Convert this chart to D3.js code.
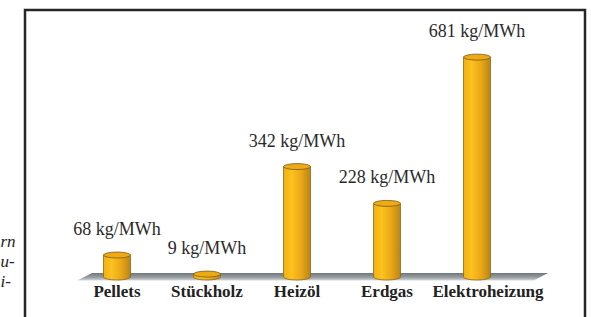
<!DOCTYPE html>
<html>
<head>
<meta charset="utf-8">
<script src="https://cdn.jsdelivr.net/npm/d3@7"></script>
<style>
  body { margin: 0; background: #fff; }
  svg { display: block; }
  text { font-family: "Liberation Serif", "DejaVu Serif", serif; }
</style>
</head>
<body>
<svg></svg>
<script>
var categories = ['Pellets', 'Stückholz', 'Heizöl', 'Erdgas', 'Elektroheizung'];
var values = [68, 9, 342, 228, 681];
var valueLabels = ['68 kg/MWh', '9 kg/MWh', '342 kg/MWh', '228 kg/MWh', '681 kg/MWh'];
var sideText = ['rn', 'u-', 'i-'];

var width = 591;
var height = 317;
var base = 277;
var barWidth = 27;

var svg = d3.select('svg')
    .attr('width', width)
    .attr('height', height);

var defs = svg.append('defs');

var barGrad = defs.append('linearGradient')
    .attr('id', 'barGrad')
    .attr('x1', '0%').attr('x2', '100%')
    .attr('y1', '0%').attr('y2', '0%');
barGrad.append('stop').attr('offset', '0%').attr('stop-color', '#f2b010');
barGrad.append('stop').attr('offset', '30%').attr('stop-color', '#fcc21f');
barGrad.append('stop').attr('offset', '65%').attr('stop-color', '#e9a816');
barGrad.append('stop').attr('offset', '100%').attr('stop-color', '#b98418');

var floorGrad = defs.append('linearGradient')
    .attr('id', 'floorGrad')
    .attr('x1', '0%').attr('x2', '0%')
    .attr('y1', '0%').attr('y2', '100%');
floorGrad.append('stop').attr('offset', '0%').attr('stop-color', '#6f767b');
floorGrad.append('stop').attr('offset', '60%').attr('stop-color', '#9aa0a4');
floorGrad.append('stop').attr('offset', '100%').attr('stop-color', '#d4d8da');

// frame
svg.append('rect')
    .attr('x', 25)
    .attr('y', 10)
    .attr('width', 560)
    .attr('height', 340)
    .attr('fill', 'none')
    .attr('stroke', '#262626')
    .attr('stroke-width', 2.5);

// bits of the neighbouring italic text at the left edge
svg.selectAll('.side')
    .data(sideText)
    .enter()
    .append('text')
      .attr('class', 'side')
      .attr('x', 0.5)
      .attr('y', (d, i) => 247 + i * 20)
      .style('font-style', 'italic')
      .style('font-size', '17px')
      .style('fill', '#222')
      .text(d => d);

var xScale = d3.scaleBand()
    .domain(categories)
    .range([72, 522])
    .padding(0);

var yScale = d3.scaleLinear()
    .domain([0, 700])
    .range([base, base - 226]);

var cx = d => xScale(d) + xScale.bandwidth() / 2;

// floor
svg.append('path')
    .attr('d', `M92,273 L548,273 L534,280.5 L77,280.5 Z`)
    .attr('fill', 'url(#floorGrad)');

var rows = categories.map((c, i) => ({ cat: c, value: values[i], label: valueLabels[i] }));

var bars = svg.selectAll('.bar')
    .data(rows)
    .enter()
    .append('g')
      .attr('class', 'bar');

bars.append('path')
    .attr('d', d => {
      var x0 = cx(d.cat) - barWidth / 2;
      var x1 = cx(d.cat) + barWidth / 2;
      var top = yScale(d.value);
      return `M${x0},${top} L${x0},${base} A${barWidth / 2},3 0 0 0 ${x1},${base} L${x1},${top} Z`;
    })
    .attr('fill', 'url(#barGrad)')
    .attr('stroke', '#8a6a1c')
    .attr('stroke-width', 0.8);

bars.append('ellipse')
    .attr('cx', d => cx(d.cat))
    .attr('cy', d => yScale(d.value))
    .attr('rx', barWidth / 2)
    .attr('ry', 3)
    .attr('fill', '#eeaa14')
    .attr('stroke', '#7a5a1a')
    .attr('stroke-width', 0.8);

bars.append('text')
    .attr('x', d => cx(d.cat))
    .attr('y', d => yScale(d.value) - 20)
    .style('text-anchor', 'middle')
    .style('font-size', '18px')
    .style('fill', '#2a2a2a')
    .text(d => d.label);

svg.selectAll('.cat')
    .data(categories)
    .enter()
    .append('text')
      .attr('class', 'cat')
      .attr('x', d => cx(d) + (d === 'Elektroheizung' ? 11 : 0))
      .attr('y', 297)
      .style('text-anchor', 'middle')
      .style('font-weight', 'bold')
      .style('font-size', '17px')
      .style('fill', '#222')
      .text(d => d);
</script>
</body>
</html>
